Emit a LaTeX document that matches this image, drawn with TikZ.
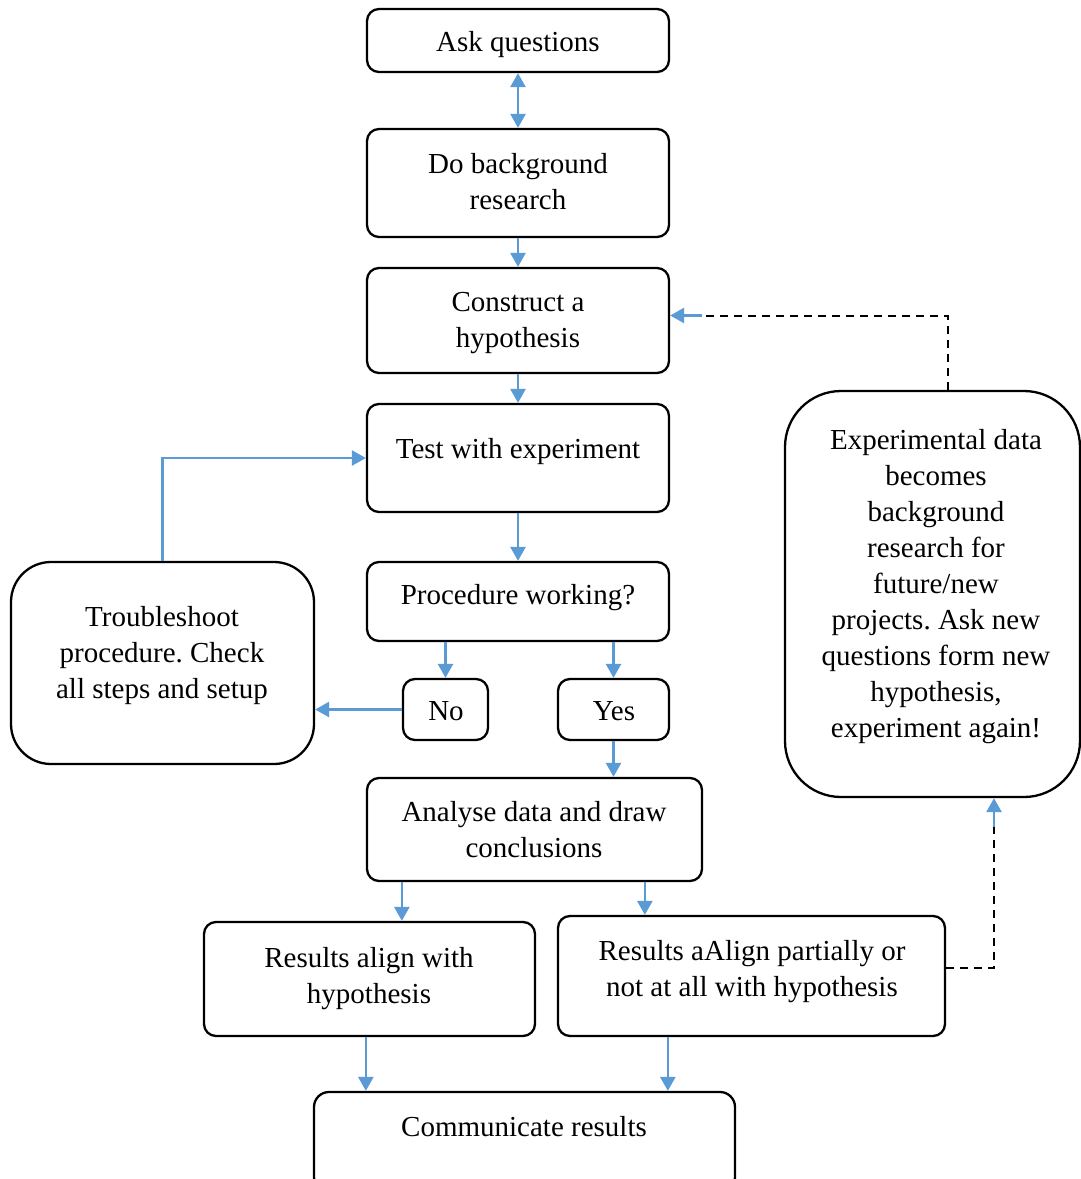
\documentclass[tikz,border=0pt]{standalone}
\usepackage{fontspec}
\setmainfont{Liberation Serif}
\usetikzlibrary{arrows.meta}
\definecolor{flowblue}{HTML}{5B9BD5}
\frenchspacing
\begin{document}
\begin{tikzpicture}[x=1pt,y=-1pt,
  box/.style={draw=black, line width=2.3pt, rounded corners=12pt, inner sep=0pt},
  txt/.style={align=center, inner sep=0pt, font=\fontsize{29}{36}\selectfont},
  arr/.style={draw=flowblue, line width=2.6pt, -{Triangle[length=14pt,width=15pt]}},
  dsh/.style={draw=black, line width=2pt, dash pattern=on 8pt off 6pt}]
\useasboundingbox (0,0) rectangle (1081,1179);
\clip (0,0) rectangle (1081,1179);

% process boxes
\node[box, minimum width=302pt, minimum height=63pt]  (ask)  at (518,40.5)  {};
\node[box, minimum width=302pt, minimum height=108pt] (bg)   at (518,183)   {};
\node[box, minimum width=302pt, minimum height=105pt] (hyp)  at (518,320.5) {};
\node[box, minimum width=302pt, minimum height=108pt] (test) at (518,458)   {};
\node[box, minimum width=302pt, minimum height=79pt]  (proc) at (518,601.5) {};
\node[box, minimum width=85pt,  minimum height=61pt]  (no)   at (445.5,709.5) {};
\node[box, minimum width=111pt, minimum height=61pt]  (yes)  at (613.5,709.5) {};
\node[box, rounded corners=40pt, minimum width=303pt, minimum height=202pt] (trouble) at (162.5,663) {};
\node[box, minimum width=335pt, minimum height=103pt] (ana)  at (534.5,829.5) {};
\node[box, minimum width=331pt, minimum height=114pt] (align) at (369.5,979) {};
\node[box, minimum width=387pt, minimum height=120pt] (partial) at (751.5,976) {};
\node[box, rounded corners=15pt, minimum width=421pt, minimum height=100pt] (comm) at (524.5,1142) {};
\node[box, rounded corners=56pt, minimum width=295pt, minimum height=406pt] (exp) at (932.5,594) {};

% box texts
\node[txt] (t-ask)  at (518,45)  {Ask questions};
\node[txt] (t-bg)   at (518,182) {Do background\\research};
\node[txt] (t-hyp)  at (518,323.5) {Construct a\\hypothesis};
\node[txt] (t-test) at (518,452) {Test with experiment};
\node[txt] (t-proc) at (518,598) {Procedure working?};
\node[txt] (t-no)   at (446,711) {No};
\node[txt] (t-yes)  at (614,711) {Yes};
\node[txt] (t-trouble) at (162,656) {Troubleshoot\\procedure. Check\\all steps and setup};
\node[txt] (t-ana)  at (534,829.5) {Analyse data and draw\\conclusions};
\node[txt] (t-align) at (369,979) {Results align with\\hypothesis};
\node[txt] (t-partial) at (752,972) {Results aAlign partially or\\not at all with hypothesis};
\node[txt] (t-comm) at (524,1127) {Communicate results};
\node[txt] (t-exp)  at (936,587) {Experimental data\\becomes\\background\\research for\\future/new\\projects. Ask new\\questions form new\\hypothesis,\\experiment again!};

% main flow
\draw[arr, {Triangle[length=14pt,width=15pt]}-{Triangle[length=14pt,width=15pt]}] (ask.south) -- (bg.north);
\draw[arr] (bg.south) -- (hyp.north);
\draw[arr] (hyp.south) -- (test.north);
\draw[arr] (test.south) -- (proc.north);
\draw[arr] (no.north |- proc.south) -- (no.north);
\draw[arr] (yes.north |- proc.south) -- (yes.north);
\draw[arr] (no.west) -- (no.west -| trouble.east);
\draw[arr] (trouble.north) |- (test.west);
\draw[arr] (yes.south) -- (yes.south |- ana.north);
\coordinate (aa) at ([xshift=36pt]ana.south west);
\draw[arr] (aa) -- (aa |- align.north);
\coordinate (ap) at ([xshift=88pt]partial.north west);
\draw[arr] (ap |- ana.south) -- (ap);
\coordinate (ca) at ([xshift=53pt]comm.north west);
\draw[arr] (ca |- align.south) -- (ca);
\coordinate (cp) at ([xshift=355pt]comm.north west);
\draw[arr] (cp |- partial.south) -- (cp);

% feedback loops
\coordinate (lowturn) at (994,827);
\draw[dsh] ([yshift=8pt]partial.east) -| (lowturn);
\draw[arr] (lowturn) -- (lowturn |- exp.south);
\coordinate (topturn) at (702,315.5);
\coordinate (expout) at (948,391);
\draw[dsh] (expout |- exp.north) |- (topturn);
\draw[arr] (topturn) -- (topturn -| hyp.east);
\end{tikzpicture}
\end{document}
